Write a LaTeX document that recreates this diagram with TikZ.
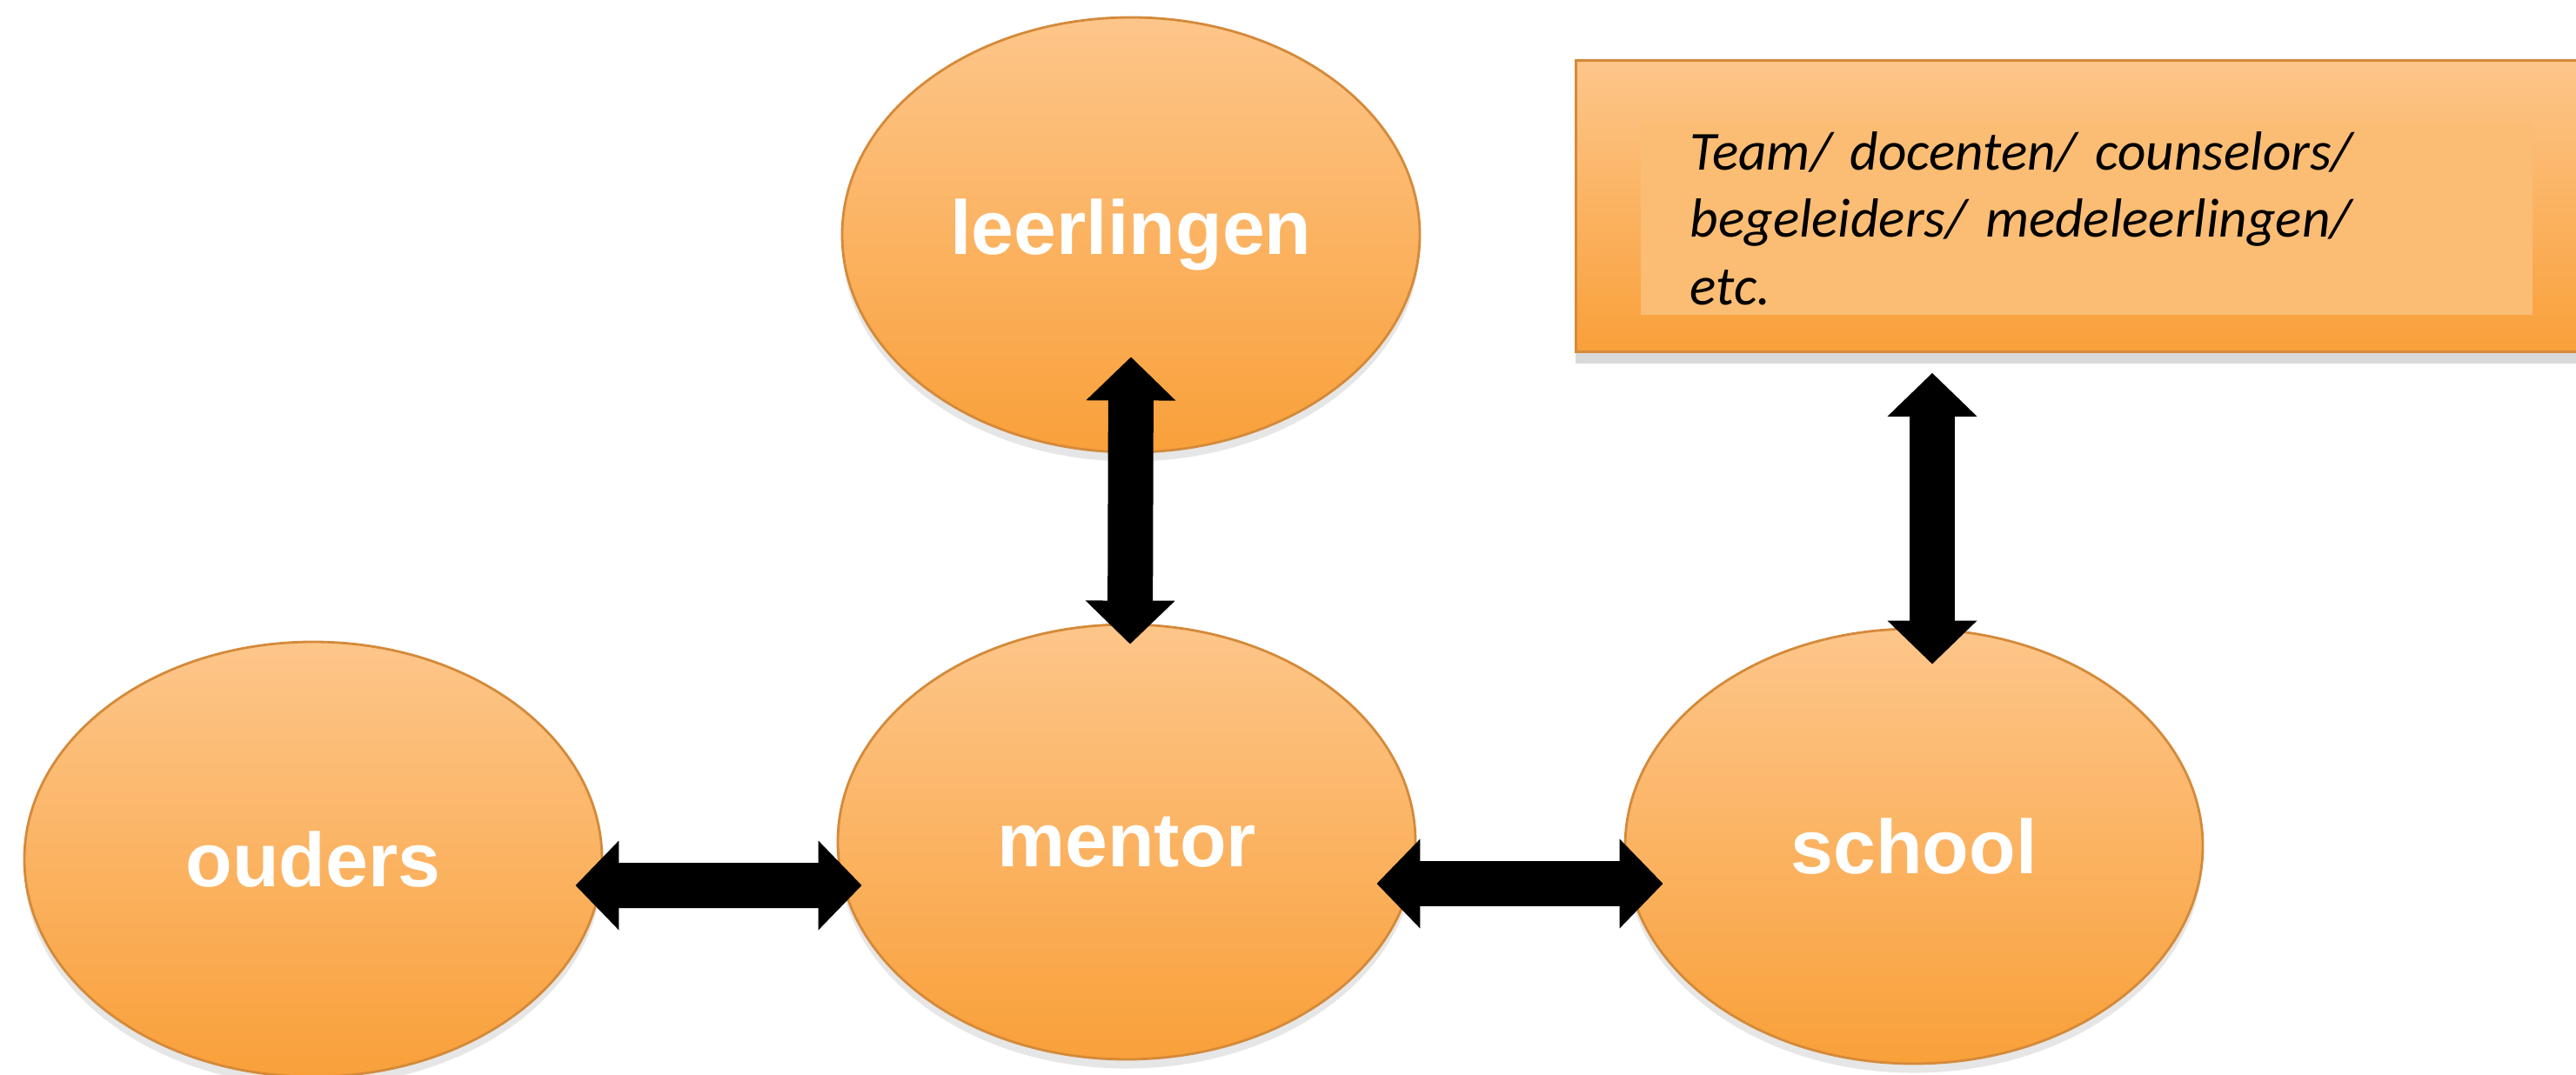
\documentclass[tikz,border=0pt]{standalone}
\usepackage{fontspec}
\usetikzlibrary{arrows.meta,shapes.geometric,shadows,calc}
\newfontfamily\lblfont{Liberation Sans}
\newfontfamily\carlito{Carlito}
\definecolor{orTop}{RGB}{253,198,138}
\definecolor{orBot}{RGB}{249,160,58}
\definecolor{orEdge}{RGB}{212,138,58}
\definecolor{orInner}{RGB}{251,188,116}
\begin{document}
\begin{tikzpicture}[
  every node/.style = {inner sep=0pt},
  bol/.style = {ellipse, minimum width=6.64cm, minimum height=5cm,
    draw=orEdge, line width=0.8pt, top color=orTop, bottom color=orBot,
    drop shadow={opacity=0.2, shadow xshift=0pt, shadow yshift=-3pt},
    text=white, font=\lblfont\bfseries\fontsize{25}{30}\selectfont},
  blok/.style = {rectangle, draw=orEdge, line width=0.8pt,
    top color=orTop, bottom color=orBot,
    drop shadow={opacity=0.3, shadow xshift=0pt, shadow yshift=-4pt}},
  dblarrow/.style = {line width=0.52cm,
    {Triangle[length=0.5cm,width=1cm]}-{Triangle[length=0.5cm,width=1cm]}}
  ]
  \useasboundingbox (0,0) rectangle (29.61,-12.36);
  \node[bol] (leerlingen) at (13.00,-2.70) {leerlingen};
  \node[bol] (ouders) at (3.60,-9.88) {ouders};
  \node[bol] (mentor) at (12.95,-9.68) {mentor};
  \node[bol] (school) at (22.00,-9.73) {school};
  \node[blok, anchor=north west, minimum width=11.6cm, minimum height=3.35cm]
    (team) at (18.10,-0.68) {};
  \node[anchor=north west, fill=orInner, inner xsep=0.57cm, inner ysep=0.11cm,
    text width=9.11cm, align=left,
    font=\carlito\itshape\fontsize{18}{22}\selectfont]
    (teamtekst) at (18.85,-1.40)
    {Team/ docenten/ counselors/\\ begeleiders/ medeleerlingen/\\ etc.};
  \draw[dblarrow] ($(leerlingen.south)+(0,1.11)$) -- ($(mentor.north)+(0.04,-0.24)$);
  \draw[dblarrow] ($(ouders.east)+(-0.32,-0.30)$) -- ($(mentor.west)+(0.29,-0.50)$);
  \draw[dblarrow] ($(mentor.east)+(-0.46,-0.48)$) -- ($(school.west)+(0.45,-0.43)$);
  \draw[dblarrow] ($(team.south -| school.north)+(0.21,-0.23)$) -- ($(school.north)+(0.21,-0.42)$);
\end{tikzpicture}
\end{document}
